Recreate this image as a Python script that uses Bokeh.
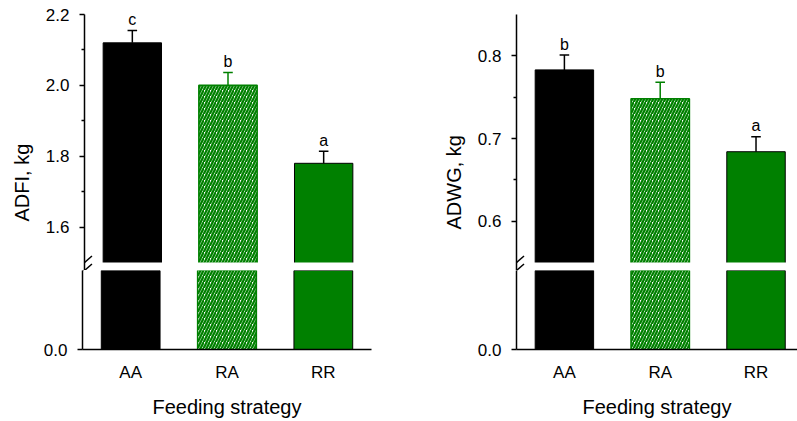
from bokeh.plotting import figure
from bokeh.models import (Range1d, FixedTicker, PrintfTickFormatter, BoxAnnotation,
                          Title, Arrow, ColumnDataSource)
from bokeh.layouts import column, row
from bokeh.embed import file_html
from bokeh.resources import INLINE
from bokeh.core.properties import value

# ---------------- data ----------------
groups = ["AA", "RA", "RR"]

adfi_mean = [2.12, 2.00, 1.78]
adfi_se = [0.035, 0.036, 0.034]
adfi_letters = ["c", "b", "a"]

adwg_mean = [0.783, 0.748, 0.684]
adwg_se = [0.018, 0.020, 0.018]
adwg_letters = ["b", "b", "a"]

adfi_ticks = [1.6, 1.8, 2.0, 2.2]
adfi_minor = [1.7, 1.9, 2.1]
adwg_ticks = [0.6, 0.7, 0.8]
adwg_minor = [0.65, 0.75]

bar_fill = ["black", "white", "#008000"]
bar_line = ["black", "#008000", "black"]
bar_line_w = [1.0, 1.5, 1.0]
bar_hatch = [" ", "/", " "]
err_color = ["black", "#008000", "black"]

# ---------------- style / layout ----------------
FONT = "Liberation Sans"
TICK_FS = "17px"
TITLE_FS = "20px"
TOP_B = 14       # border above upper frame
UP_FRAME = 256   # upper frame height (includes the break gap)
GAP = 8          # white gap of the axis break
LOW_FRAME = 79   # lower frame height
BOT_B = 72       # border below lower frame
BAR_W = 0.61
CAP = 0.05


def style_yaxis(ax, ticks, minor):
    ax.ticker = FixedTicker(ticks=ticks, minor_ticks=minor)
    ax.formatter = PrintfTickFormatter(format="%.1f")
    ax.major_tick_in = 0
    ax.major_tick_out = 5
    ax.minor_tick_in = 0
    ax.minor_tick_out = 3
    ax.major_label_standoff = 10
    ax.axis_line_width = 1.5
    ax.major_tick_line_width = 1.5
    ax.minor_tick_line_width = 1.5
    ax.major_label_text_font = FONT
    ax.major_label_text_font_size = TICK_FS
    ax.major_label_text_color = "black"


def draw_bars(fig, src):
    fig.vbar(x="x", top="top", bottom=0, width=BAR_W, source=src,
             fill_color="fill", line_color="line", line_width="lw",
             hatch_pattern="hatch", hatch_color="#008000", hatch_scale=6,
             hatch_weight=2.3, level="underlay")
    fig.segment(x0="x", y0="top", x1="x", y1="up", line_color="err",
                line_width=1.5, source=src)
    fig.segment(x0="cl", y0="up", x1="cr", y1="up", line_color="err",
                line_width=1.5, source=src)


def slash(fig, xc, yc, ppx, ppu):
    fig.add_layout(Arrow(end=None, x_start=xc - 7.5 / ppx, y_start=yc - 6.5 / ppu,
                         x_end=xc + 7.5 / ppx, y_end=yc + 6.5 / ppu,
                         line_width=1.5, line_color="black"))


def panel(ylabel, title_offset, means, ses, letters, ticks, minor, y_top, y_break,
          x_end, frame_w, b_left, b_right):
    x = list(range(len(groups)))
    src = ColumnDataSource(dict(
        x=x, top=means, up=[m + s for m, s in zip(means, ses)],
        cl=[xi - CAP for xi in x], cr=[xi + CAP for xi in x],
        fill=bar_fill, line=bar_line, lw=bar_line_w, hatch=bar_hatch,
        err=err_color, lab=letters))
    ppu = (UP_FRAME - GAP) / (y_top - y_break)
    ppx = frame_w / (x_end + 0.5)
    y_gap_start = y_break - GAP / ppu
    low_top = LOW_FRAME / ppu
    width = b_left + frame_w + b_right
    xr = Range1d(-0.5, x_end)

    up = figure(width=width, height=TOP_B + UP_FRAME, x_range=xr,
                y_range=Range1d(y_gap_start, y_top), output_backend="svg",
                toolbar_location=None, x_axis_location=None,
                min_border_left=b_left, min_border_right=b_right,
                min_border_top=TOP_B, min_border_bottom=0)
    low = figure(width=width, height=LOW_FRAME + BOT_B, x_range=xr,
                 y_range=Range1d(0, low_top), output_backend="svg",
                 toolbar_location=None,
                 min_border_left=b_left, min_border_right=b_right,
                 min_border_top=0, min_border_bottom=BOT_B)
    for f in (up, low):
        f.grid.visible = False
        f.outline_line_color = None
        f.background_fill_color = "white"
        f.border_fill_color = "white"
        draw_bars(f, src)

    up.add_layout(BoxAnnotation(top=y_break, fill_color="white", fill_alpha=1.0,
                                line_alpha=0, level="glyph"))
    up.text(x="x", y="up", text="lab", source=src, text_align="center",
            text_baseline="alphabetic", y_offset=-11, text_font=value(FONT),
            text_font_size="16px", text_color="black")

    style_yaxis(up.yaxis[0], ticks, minor)
    style_yaxis(low.yaxis[0], [0.0], [])

    xa = low.xaxis[0]
    xa.ticker = FixedTicker(ticks=x, minor_ticks=[])
    xa.major_label_overrides = {i: g for i, g in zip(x, groups)}
    xa.major_tick_in = 0
    xa.major_tick_out = 0
    xa.axis_line_width = 1.5
    xa.major_label_standoff = 13
    xa.major_label_text_font = FONT
    xa.major_label_text_font_size = TICK_FS
    xa.major_label_text_color = "black"
    xa.axis_label = "Feeding strategy"
    xa.axis_label_standoff = 11
    xa.axis_label_text_font = FONT
    xa.axis_label_text_font_size = TITLE_FS
    xa.axis_label_text_font_style = "normal"
    xa.axis_label_text_color = "black"

    # y-axis title: placed so it is centred on the whole broken axis
    up.add_layout(Title(text=ylabel, align="left", offset=title_offset,
                        vertical_align="middle", standoff=18,
                        text_font=FONT, text_font_size=TITLE_FS,
                        text_font_style="normal", text_color="black"), "left")

    # break marks
    slash(up, -0.5, y_break, ppx, ppu)
    slash(up, -0.5, y_gap_start, ppx, ppu)
    slash(low, -0.5, low_top, ppx, ppu)
    return up, low


up1, low1 = panel("ADFI, kg", 49, adfi_mean, adfi_se, adfi_letters, adfi_ticks,
                  adfi_minor, 2.2, 1.5, 2.5, 289, 82, 29)
up2, low2 = panel("ADWG, kg", 41, adwg_mean, adwg_se, adwg_letters, adwg_ticks,
                  adwg_minor, 0.85, 0.55, 2.433, 281, 116, 0)

layout = column(row(up1, up2), row(low1, low2))

open("out.html", "w").write(file_html(layout, INLINE))
